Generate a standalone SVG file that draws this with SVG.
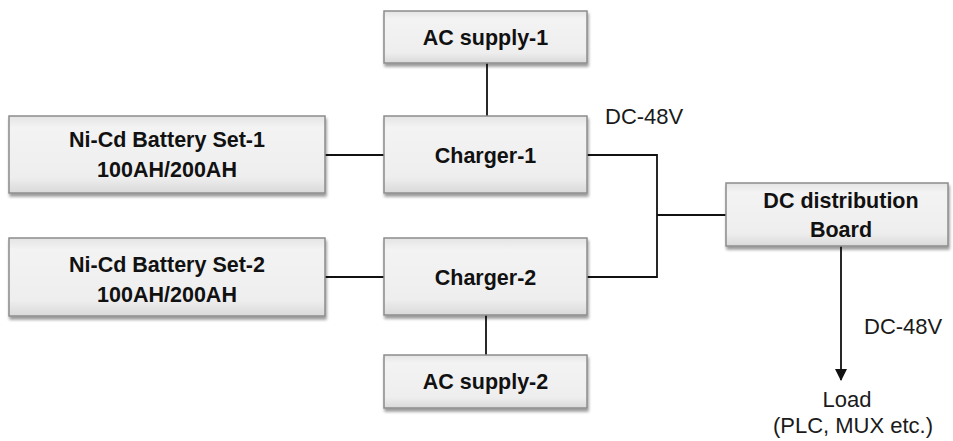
<svg xmlns="http://www.w3.org/2000/svg" width="953" height="441" viewBox="0 0 953 441">
<style>
.box{fill:url(#g);stroke:#8c8c8c;stroke-width:1.5;filter:url(#sh)}
.bt{font-family:"Liberation Sans",Arial,sans-serif;font-weight:bold;font-size:21.5px;fill:#111;text-anchor:middle}
.lt{font-family:"Liberation Sans",Arial,sans-serif;font-size:22px;fill:#1a1a1a}
.ln{stroke:#111;stroke-width:1.8;fill:none}
</style>
<defs>
<linearGradient id="g" x1="0" y1="0" x2="0" y2="1">
<stop offset="0" stop-color="#e4e4e4"/>
<stop offset="0.15" stop-color="#f3f3f3"/>
<stop offset="0.8" stop-color="#eeeeee"/>
<stop offset="1" stop-color="#d9d9d9"/>
</linearGradient>
<filter id="sh" x="-5%" y="-10%" width="115%" height="130%">
<feGaussianBlur in="SourceAlpha" stdDeviation="1.5"/>
<feOffset dx="1" dy="3" result="b"/>
<feComponentTransfer><feFuncA type="linear" slope="0.4"/></feComponentTransfer>
<feMerge><feMergeNode/><feMergeNode in="SourceGraphic"/></feMerge>
</filter>
<marker id="arr" markerWidth="12" markerHeight="12" refX="11" refY="6" orient="auto" markerUnits="userSpaceOnUse">
<path d="M0,0 L12,6 L0,12 z" fill="#111"/>
</marker>
</defs>
<g id="connectors">
<line class="ln" x1="487" y1="63" x2="487" y2="116"/>
<line class="ln" x1="325" y1="155" x2="384" y2="155"/>
<polyline class="ln" points="587,155 657,155 657,277 587,277"/>
<line class="ln" x1="657" y1="215" x2="726" y2="215"/>
<line class="ln" x1="325" y1="277" x2="384" y2="277"/>
<line class="ln" x1="486" y1="315" x2="486" y2="355"/>
<line class="ln" x1="841" y1="246" x2="841" y2="380" marker-end="url(#arr)"/>
</g>
<g id="ac1"><rect class="box" x="384" y="11" width="203" height="52"/><text class="bt" x="485.5" y="45">AC supply-1</text></g>
<g id="battery1"><rect class="box" x="9" y="116" width="316" height="77"/><text class="bt" x="167" y="147">Ni-Cd Battery Set-1</text><text class="bt" x="167" y="177">100AH/200AH</text></g>
<g id="charger1"><rect class="box" x="384" y="116" width="203" height="77"/><text class="bt" x="485.5" y="163">Charger-1</text></g>
<g id="battery2"><rect class="box" x="9" y="238" width="316" height="78"/><text class="bt" x="167" y="272">Ni-Cd Battery Set-2</text><text class="bt" x="167" y="302">100AH/200AH</text></g>
<g id="charger2"><rect class="box" x="384" y="238" width="203" height="77"/><text class="bt" x="485.5" y="285">Charger-2</text></g>
<g id="ac2"><rect class="box" x="384" y="355" width="203" height="53"/><text class="bt" x="485.5" y="389">AC supply-2</text></g>
<g id="dcboard"><rect class="box" x="726" y="183" width="222" height="63"/><text class="bt" x="841" y="208">DC distribution</text><text class="bt" x="841" y="237">Board</text></g>
<g id="labels">
<text class="lt" x="605" y="124">DC-48V</text>
<text class="lt" x="864" y="334">DC-48V</text>
<text class="lt" x="847" y="407" text-anchor="middle">Load</text>
<text class="lt" x="853" y="433" text-anchor="middle">(PLC, MUX etc.)</text>
</g>
</svg>
